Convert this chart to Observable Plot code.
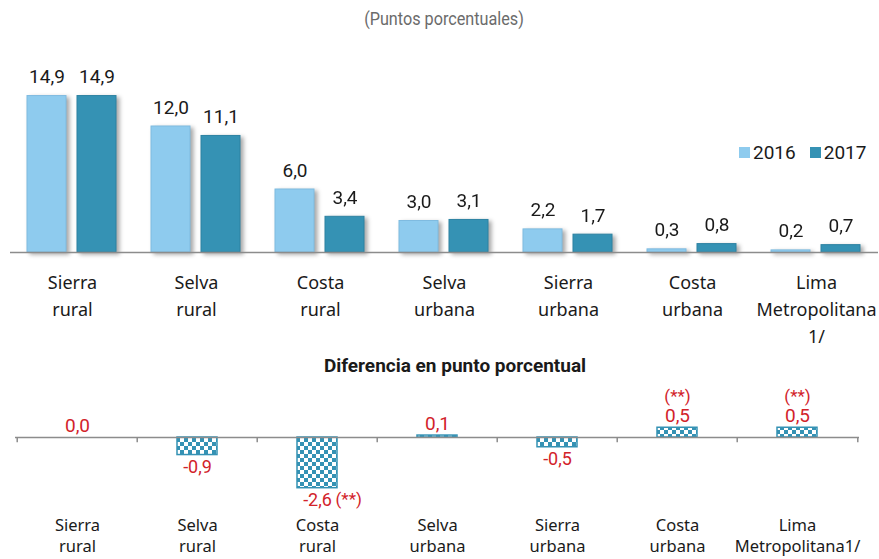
<!DOCTYPE html>
<html><head><meta charset="utf-8">
<script src="https://cdn.jsdelivr.net/npm/d3@7"></script>
<script src="https://cdn.jsdelivr.net/npm/@observablehq/plot@0.6"></script>
<style>
body{margin:0;background:#fff;}
#root{position:relative;width:879px;height:559px;overflow:hidden;font-family:Lato,sans-serif;}
.abs{position:absolute;}
#root svg{overflow:visible;}
</style></head><body><div id="root"></div>
<script>
const categories = ["Sierra rural","Selva rural","Costa rural","Selva urbana","Sierra urbana","Costa urbana","Lima Metropolitana 1/"];
const topLabels = ["Sierra\nrural","Selva\nrural","Costa\nrural","Selva\nurbana","Sierra\nurbana","Costa\nurbana","Lima\nMetropolitana\n1/"];
const bottomLabels = ["Sierra\nrural","Selva\nrural","Costa\nrural","Selva\nurbana","Sierra\nurbana","Costa\nurbana","Lima\nMetropolitana1/"];
const years = ["2016","2017"];
const v2016 = [14.9, 12.0, 6.0, 3.0, 2.2, 0.3, 0.2];
const v2017 = [14.9, 11.1, 3.4, 3.1, 1.7, 0.8, 0.7];
const diff = [0.0, -0.9, -2.6, 0.1, -0.5, 0.5, 0.5];
const notes = ["", "", "(**)", "", "", "(**)", "(**)"];
const subtitle = "(Puntos porcentuales)";
const diffTitle = "Diferencia en punto porcentual";

const C2016 = "#8ecbee", C2017 = "#3592b4", RED = "#d2232a", AXIS = "#8c8c8c";
const NARROW = "'Liberation Sans Narrow','Arial Narrow',Roboto,sans-serif";
const fmt = v => v.toFixed(1).replace(".", ",");
const root = document.getElementById("root");

function addDiv(text, css) {
  const d = document.createElement("div");
  d.className = "abs";
  d.textContent = text;
  d.style.cssText += css;
  root.appendChild(d);
  return d;
}

// subtitle
addDiv(subtitle, "left:444px;top:8px;transform:translateX(-50%) scaleX(0.9);font-family:" + NARROW + ";font-size:18px;color:#6b6b6b;white-space:nowrap;");

// top chart
const topRows = categories.flatMap((c, i) => [
  {cat: c, year: years[0], value: v2016[i]},
  {cat: c, year: years[1], value: v2017[i]}
]);
const topChart = Plot.plot({
  width: 879, height: 320,
  marginLeft: 9, marginRight: 0, marginTop: 33, marginBottom: 98,
  fx: {domain: categories, padding: 0, axis: null},
  x: {domain: years, paddingInner: 0.216, paddingOuter: 0.329, axis: null},
  y: {domain: [0, 18], axis: null},
  marks: [
    Plot.barY(topRows, {filter: d => d.year === "2016", fx: "cat", x: "year", y: "value", fill: C2016, stroke: "#7fbbe0", strokeWidth: 1}),
    Plot.barY(topRows, {filter: d => d.year === "2017", fx: "cat", x: "year", y: "value", fill: C2017, stroke: "#2d82a2", strokeWidth: 1}),
    Plot.ruleY([0], {stroke: AXIS, strokeWidth: 1.5}),
    Plot.text(topRows, {fx: "cat", x: "year", y: "value", text: d => fmt(d.value), lineAnchor: "bottom", dy: -13, fontSize: 19, fontFamily: NARROW, fill: "#1a1a1a"}),
    Plot.text(categories, {fx: d => d, text: (d, i) => topLabels[i], frameAnchor: "bottom", lineAnchor: "top", dy: 17, fontSize: 18, lineHeight: 1.5, fill: "#1a1a1a"})
  ]
});
topChart.style.position = "absolute";
topChart.style.left = "0px";
topChart.style.top = "30px";
topChart.querySelectorAll('g[aria-label="bar"]').forEach(g => g.style.filter = "drop-shadow(3px 2px 2px rgba(0,0,0,0.35))");
root.appendChild(topChart);

// legend
const leg = addDiv("", "left:739px;top:141px;display:flex;align-items:center;font-family:" + NARROW + ";font-size:19px;color:#1a1a1a;");
years.forEach((y, i) => {
  const sw = document.createElement("span");
  sw.style.cssText = `display:inline-block;width:11px;height:11px;background:${i ? C2017 : C2016};margin-right:3px;margin-left:${i ? 14 : 0}px;`;
  const t = document.createElement("span");
  t.textContent = y;
  leg.appendChild(sw); leg.appendChild(t);
});

// bottom title
addDiv(diffTitle, "left:455px;top:354px;transform:translateX(-50%);font-family:" + NARROW + ";font-weight:bold;font-size:19px;color:#1a1a1a;white-space:nowrap;");

// bottom chart
const bottomRows = categories.map((c, i) => ({cat: c, diff: diff[i], note: notes[i], label: bottomLabels[i]}));
const bML = 15, bMR = 20, bW = 879;
const step = (bW - bML - bMR) / categories.length;
const bottomChart = Plot.plot({
  width: bW, height: 209,
  marginLeft: bML, marginRight: bMR, marginTop: 48, marginBottom: 44,
  x: {domain: categories, paddingInner: 0.668, paddingOuter: 0.334, axis: null},
  y: {domain: [-4, 2], axis: null},
  marks: [
    Plot.barY(bottomRows, {x: "cat", y: "diff", fill: "url(#checker)", stroke: C2017, strokeWidth: 1.5}),
    Plot.ruleY([0], {stroke: AXIS, strokeWidth: 1.5}),
    Plot.ruleX(categories, {x: d => d, y1: 0, y2: -0.27, dx: -step / 2, stroke: AXIS, strokeWidth: 1.5}),
    Plot.ruleX(categories.slice(-1), {x: d => d, y1: 0, y2: -0.27, dx: step / 2, stroke: AXIS, strokeWidth: 1.5}),
    Plot.text(bottomRows, {filter: d => d.diff >= 0, x: "cat", y: "diff", text: d => fmt(d.diff), lineAnchor: "bottom", dy: -6, fill: RED, fontSize: 19, fontFamily: NARROW}),
    Plot.text(bottomRows, {filter: d => d.diff < 0, x: "cat", y: "diff", text: d => fmt(d.diff), lineAnchor: "top", dy: 5, fill: RED, fontSize: 18, fontFamily: NARROW}),
    Plot.text(bottomRows, {filter: d => d.note && d.diff >= 0, x: "cat", y: "diff", text: "note", lineAnchor: "bottom", dy: -26, fill: RED, fontSize: 17, fontFamily: NARROW}),
    Plot.text(bottomRows, {filter: d => d.note && d.diff < 0, x: "cat", y: "diff", text: "note", textAnchor: "start", dx: 18, lineAnchor: "top", dy: 5, fill: RED, fontSize: 17, fontFamily: NARROW}),
    Plot.text(bottomRows, {x: "cat", text: "label", frameAnchor: "bottom", lineAnchor: "top", dy: 0, fontSize: 16.5, lineHeight: 1.3, fill: "#1a1a1a"})
  ]
});
const ns = "http://www.w3.org/2000/svg";
const defs = document.createElementNS(ns, "defs");
defs.innerHTML = `<pattern id="checker" width="8" height="8" patternUnits="userSpaceOnUse">
  <rect width="8" height="8" fill="#ffffff"/>
  <rect width="4" height="4" fill="${C2017}"/>
  <rect x="4" y="4" width="4" height="4" fill="${C2017}"/>
</pattern>`;
bottomChart.insertBefore(defs, bottomChart.firstChild);
bottomChart.style.position = "absolute";
bottomChart.style.left = "0px";
bottomChart.style.top = "350px";
root.appendChild(bottomChart);
</script>
</body></html>
